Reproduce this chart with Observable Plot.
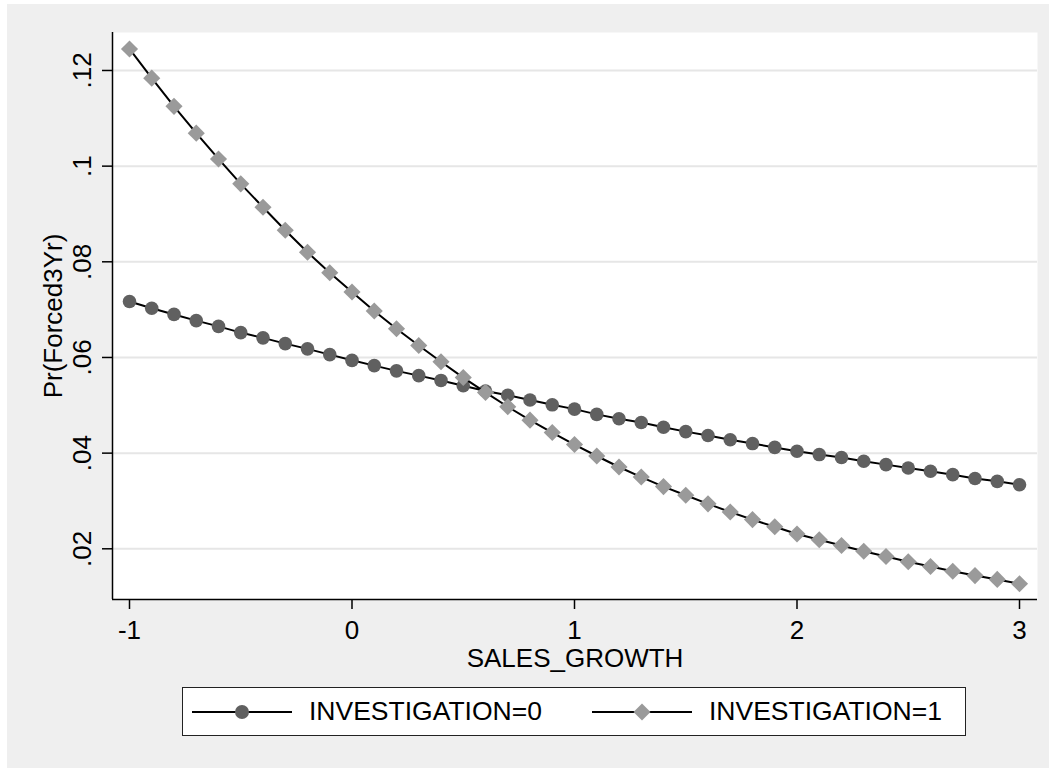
<!DOCTYPE html>
<html>
<head>
<meta charset="utf-8">
<script src="https://cdn.jsdelivr.net/npm/d3@7"></script>
<script src="https://cdn.jsdelivr.net/npm/@observablehq/plot@0.6"></script>
<style>
  html, body { margin: 0; padding: 0; background: #ffffff; }
  #bg { position: absolute; left: 7px; top: 4px; width: 1042px; height: 764px; background: #efefef; }
  #chart { position: absolute; left: 0; top: 0; }
  #legend { position: absolute; left: 182px; top: 687px; width: 784px; height: 49px; box-sizing: border-box;
            border: 1.5px solid #222; background: #ffffff;
            font-family: "Liberation Sans", Arial, sans-serif; font-size: 26.5px; color: #000; }
  #legend .icon { position: absolute; top: 0; width: 100px; height: 46px; }
  #legend .lab { position: absolute; top: 0; line-height: 47px; white-space: nowrap; }
</style>
</head>
<body>
<div id="bg"></div>
<div id="chart"></div>
<div id="legend"></div>
<script>
// ---- data ----
const salesGrowth = [-1, -0.9, -0.8, -0.7, -0.6, -0.5, -0.4, -0.3, -0.2, -0.1, 0,
  0.1, 0.2, 0.3, 0.4, 0.5, 0.6, 0.7, 0.8, 0.9, 1,
  1.1, 1.2, 1.3, 1.4, 1.5, 1.6, 1.7, 1.8, 1.9, 2,
  2.1, 2.2, 2.3, 2.4, 2.5, 2.6, 2.7, 2.8, 2.9, 3];
const investigation0 = [0.0717, 0.0703, 0.0690, 0.0677, 0.0665, 0.0652, 0.0641, 0.0629, 0.0618, 0.0606, 0.0594,
  0.0583, 0.0572, 0.0562, 0.0552, 0.0541, 0.0530, 0.0521, 0.0511, 0.0501, 0.0492,
  0.0481, 0.0472, 0.0464, 0.0454, 0.0445, 0.0437, 0.0428, 0.0420, 0.0412, 0.0404,
  0.0397, 0.0391, 0.0383, 0.0376, 0.0369, 0.0362, 0.0355, 0.0347, 0.0341, 0.0334];
const investigation1 = [0.1245, 0.1184, 0.1125, 0.1069, 0.1015, 0.0963, 0.0914, 0.0866, 0.0820, 0.0777, 0.0737,
  0.0697, 0.0660, 0.0625, 0.0591, 0.0558, 0.0527, 0.0497, 0.0469, 0.0443, 0.0418,
  0.0394, 0.0371, 0.0350, 0.0330, 0.0312, 0.0294, 0.0277, 0.0261, 0.0246, 0.0231,
  0.0219, 0.0207, 0.0195, 0.0184, 0.0173, 0.0163, 0.0153, 0.0144, 0.0136, 0.0127];
const seriesNames = ["INVESTIGATION=0", "INVESTIGATION=1"];
const xTicks = [-1, 0, 1, 2, 3];
const xTickLabels = ["-1", "0", "1", "2", "3"];
const yTicks = [0.02, 0.04, 0.06, 0.08, 0.1, 0.12];
const yTickLabels = [".02", ".04", ".06", ".08", ".1", ".12"];
const xTitle = "SALES_GROWTH";
const yTitle = "Pr(Forced3Yr)";

// ---- styling ----
const xDomain = [-1.0764, 3.0809];
const yDomain = [0.0094, 0.12794];
const colors = ["#606060", "#9a9a9a"];
const FONT = '"Liberation Sans", Arial, sans-serif';

const rows0 = salesGrowth.map((x, i) => ({x, y: investigation0[i]}));
const rows1 = salesGrowth.map((x, i) => ({x, y: investigation1[i]}));

const chart = Plot.plot({
  width: 1049,
  height: 680,
  marginLeft: 112,
  marginRight: 12,
  marginTop: 32,
  marginBottom: 81,
  x: {domain: xDomain},
  y: {domain: yDomain},
  style: {background: "transparent", fontFamily: FONT, fontSize: "26px", color: "#000", overflow: "visible"},
  marks: [
    Plot.frame({fill: "white", stroke: "none"}),
    Plot.gridY(yTicks, {stroke: "#e6e6e6", strokeOpacity: 1, strokeWidth: 2}),
    Plot.ruleX([xDomain[0]], {stroke: "#000", strokeWidth: 1.5}),
    Plot.ruleY([yDomain[0]], {stroke: "#000", strokeWidth: 1.5}),
    Plot.axisX(xTicks, {
      tickSize: 10, tickPadding: 11, strokeWidth: 1.5, fontSize: 26,
      tickFormat: d => xTickLabels[xTicks.indexOf(d)],
      label: xTitle, labelAnchor: "center", labelOffset: 67, labelArrow: "none"
    }),
    Plot.axisY(yTicks, {
      tickSize: 10, tickPadding: 12, strokeWidth: 1.5, tickRotate: -90, fontSize: 26,
      tickFormat: d => yTickLabels[yTicks.indexOf(d)],
      label: yTitle, labelAnchor: "center", labelOffset: 69, labelArrow: "none"
    }),
    Plot.line(rows0, {x: "x", y: "y", stroke: "#000", strokeWidth: 2}),
    Plot.dot(rows0, {x: "x", y: "y", r: 6.8, fill: colors[0], stroke: "none", symbol: "circle"}),
    Plot.line(rows1, {x: "x", y: "y", stroke: "#000", strokeWidth: 2}),
    Plot.dot(rows1, {x: "x", y: "y", r: 7.7, fill: colors[1], stroke: "none", symbol: "diamond2"})
  ]
});
document.getElementById("chart").appendChild(chart);

// ---- legend ----
const legend = document.getElementById("legend");
const iconLeft = [9, 409];
const labLeft = [126, 526];
seriesNames.forEach((name, i) => {
  const ns = "http://www.w3.org/2000/svg";
  const svg = document.createElementNS(ns, "svg");
  svg.setAttribute("class", "icon");
  svg.setAttribute("width", 100);
  svg.setAttribute("height", 46);
  svg.style.left = iconLeft[i] + "px";
  const line = document.createElementNS(ns, "line");
  line.setAttribute("x1", 0); line.setAttribute("x2", 100);
  line.setAttribute("y1", 24); line.setAttribute("y2", 24);
  line.setAttribute("stroke", "#000"); line.setAttribute("stroke-width", 2);
  svg.appendChild(line);
  if (i === 0) {
    const c = document.createElementNS(ns, "circle");
    c.setAttribute("cx", 50); c.setAttribute("cy", 24); c.setAttribute("r", 7);
    c.setAttribute("fill", colors[0]);
    svg.appendChild(c);
  } else {
    const p = document.createElementNS(ns, "path");
    p.setAttribute("d", "M50,15.5L58.5,24L50,32.5L41.5,24Z");
    p.setAttribute("fill", colors[1]);
    svg.appendChild(p);
  }
  legend.appendChild(svg);
  const lab = document.createElement("div");
  lab.className = "lab";
  lab.style.left = labLeft[i] + "px";
  lab.textContent = name;
  legend.appendChild(lab);
});
</script>
</body>
</html>
